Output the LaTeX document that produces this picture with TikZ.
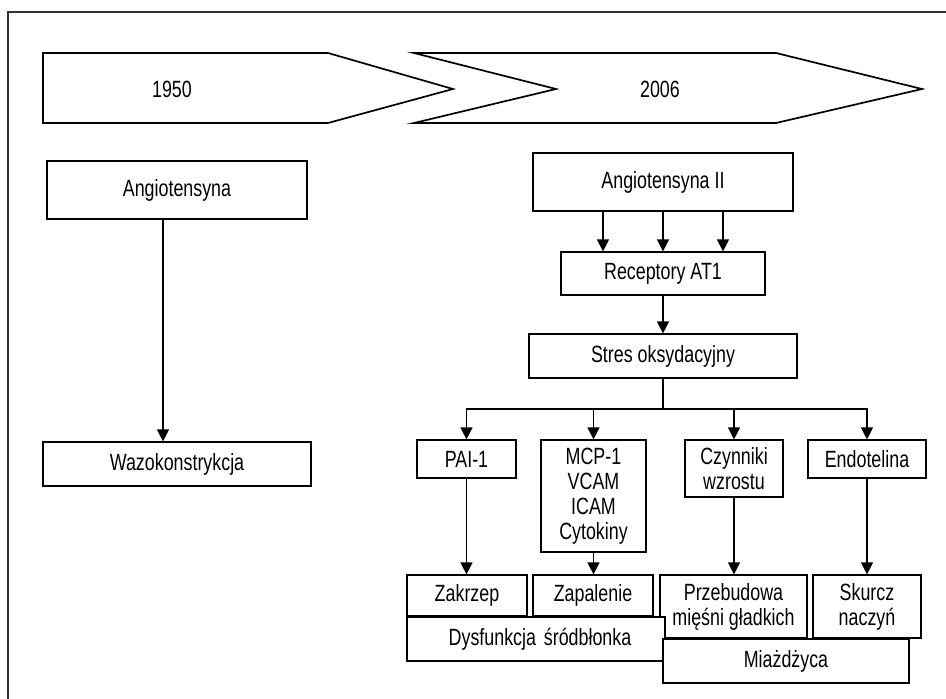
\documentclass[tikz,border=0pt]{standalone}
\usepackage{fontspec}
\setmainfont[FakeStretch=0.76]{Liberation Sans}
\usetikzlibrary{arrows.meta}
\begin{document}
\begin{tikzpicture}[x=1pt,y=-1pt,
  box/.style={draw, fill=white, line width=1.2pt, inner sep=0pt, align=center,
    font=\fontsize{23.5}{25}\selectfont},
  arr/.style={line width=1.2pt, -{Triangle[width=12pt,length=12pt]}},
  conn/.style={line width=1.2pt},
  tl/.style={draw, line width=1.7pt, line join=miter, fill=white},
  lbl/.style={font=\fontsize{23.5}{25}\selectfont, inner sep=0pt}]
\useasboundingbox (0,0) rectangle (946,699);
% frame
\draw[line width=1.3pt, black!80] (8,699) -- (8,12) -- (946,12);
% timeline arrows
\draw[tl] (43,53) -- (328,53) -- (453,89) -- (328,123) -- (43,123) -- cycle;
\draw[tl] (414,53) -- (776,53) -- (922,89) -- (776,123) -- (414,123) -- (556,89) -- cycle;
\node[lbl] (y1950) at (172,89) {1950};
\node[lbl] (y2006) at (660,89) {2006};
% left column
\node[box, minimum width=260pt, minimum height=58pt] (ang) at (177,190) {Angiotensyna};
\node[box, minimum width=268pt, minimum height=44pt] (waz) at (177,464) {Wazokonstrykcja};
% right column
\node[box, minimum width=260pt, minimum height=58pt] (ang2) at (663,182) {Angiotensyna II};
\node[box, minimum width=204pt, minimum height=43pt] (rec) at (663,273.5) {Receptory AT1};
\node[box, minimum width=268pt, minimum height=44pt] (stres) at (663,356) {Stres oksydacyjny};
\node[box, minimum width=99pt, minimum height=38pt] (pai) at (466.5,459) {PAI-1};
\node[box, minimum width=105pt, minimum height=112pt] (mcp) at (593.5,496) {MCP-1\\VCAM\\ICAM\\Cytokiny};
\node[box, minimum width=98pt, minimum height=57pt] (czy) at (734,468.5) {Czynniki\\wzrostu};
\node[box, minimum width=118pt, minimum height=38pt] (endo) at (867,459) {Endotelina};
\node[box, minimum width=120pt, minimum height=41pt] (zak) at (467,595.5) {Zakrzep};
\node[box, minimum width=120pt, minimum height=41pt] (zap) at (593,595.5) {Zapalenie};
\node[box, minimum width=147pt, minimum height=63pt] (prz) at (733.5,606.5) {Przebudowa\\mięśni gładkich};
\node[box, minimum width=108pt, minimum height=63pt] (sku) at (867,606.5) {Skurcz\\naczyń};
\node[box, minimum width=258pt, minimum height=44pt, text width=258pt] (dys) at (536,639) {\hspace*{8pt}Dysfunkcja śródbłonka};
\node[box, minimum width=246pt, minimum height=44pt] (mia) at (786,661) {Miażdżyca};
% connectors
\draw[arr] ([xshift=-14pt]ang.south) -- ([xshift=-14pt]ang.south |- waz.north);
\draw[arr] ([xshift=-60pt]ang2.south) -- ([xshift=-60pt]ang2.south |- rec.north);
\draw[arr] (ang2.south) -- (ang2.south |- rec.north);
\draw[arr] ([xshift=60pt]ang2.south) -- ([xshift=60pt]ang2.south |- rec.north);
\draw[arr] (rec.south) -- (rec.south |- stres.north);
\coordinate (bus) at (663,409);
\draw[conn] (stres.south) -- (bus);
\draw[arr] (bus) -| (pai.north);
\draw[arr] (bus) -| (mcp.north);
\draw[arr] (bus) -| (czy.north);
\draw[arr] (bus) -| (endo.north);
\draw[arr] (pai.south) -- (pai.south |- zak.north);
\draw[arr] (mcp.south) -- (mcp.south |- zap.north);
\draw[arr] (czy.south) -- (czy.south |- prz.north);
\draw[arr] (endo.south) -- (endo.south |- sku.north);
\end{tikzpicture}
\end{document}
